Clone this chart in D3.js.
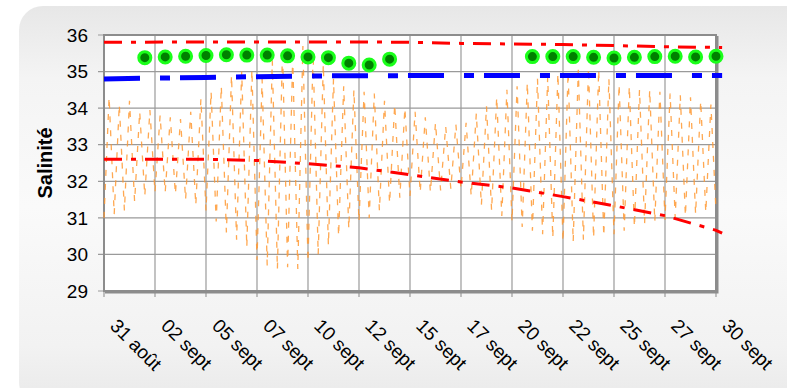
<!DOCTYPE html>
<html>
<head>
<meta charset="utf-8">
<script src="https://cdn.jsdelivr.net/npm/d3@7"></script>
<style>
  body { margin: 0; background: #fff; }
  svg { display: block; font-family: "Liberation Sans", Arial, sans-serif; }
</style>
</head>
<body>
<svg id="chart" width="787" height="388"></svg>
<script>
// jours depuis le 31 août 00:00
let tickDays = [0, 2.5, 5, 7.5, 10, 12.5, 15, 17.5, 20, 22.5, 25, 27.5, 30];
let tickLabels = ["31 août", "02 sept", "05 sept", "07 sept", "10 sept", "12 sept", "15 sept",
    "17 sept", "20 sept", "22 sept", "25 sept", "27 sept", "30 sept"];
let yTicks = [29, 30, 31, 32, 33, 34, 35, 36];

// salinité marée : basses mers (t = 0, 0.5, ... 30 j), pleines mers (t = 0.25, 0.75, ... 29.75 j)
let basses = [31.0, 31.1, 31.2, 31.45, 31.6, 31.7, 31.7, 31.65, 31.5, 31.35,
    31.2, 30.9, 30.6, 30.4, 30.2, 29.85, 29.7, 29.6, 29.65, 29.6,
    29.8, 30.0, 30.25, 30.5, 30.7, 30.9, 31.0, 31.2, 31.4, 31.55,
    31.6, 31.7, 31.7, 31.75, 31.8, 31.8, 31.6, 31.35, 31.2, 31.05,
    30.9, 30.75, 30.65, 30.55, 30.45, 30.35, 30.35, 30.4, 30.45, 30.5,
    30.55, 30.65, 30.75, 30.85, 30.9, 30.95, 31.0, 31.05, 31.1, 31.15, 31.2];
let hautes = [34.3, 34.1, 34.2, 33.9, 33.95, 33.8, 33.75, 33.7, 33.9, 34.25,
    34.45, 34.6, 34.9, 35.0, 35.05, 34.8, 35.3, 35.6, 35.4, 35.7,
    35.5, 35.2, 34.8, 34.6, 34.5, 34.45, 34.4, 34.2, 34.1, 34.0,
    33.9, 33.75, 33.6, 33.5, 33.55, 33.6, 33.85, 34.05, 34.3, 34.5,
    34.6, 34.7, 34.8, 34.85, 34.95, 35.0, 35.05, 35.1, 35.05, 34.8,
    34.65, 34.6, 34.5, 34.5, 34.45, 34.4, 34.35, 34.3, 34.2, 34.1];

// moyennes journalières (points verts)
let joursMoy = [2, 3, 4, 5, 6, 7, 8, 9, 10, 11, 12, 13, 14,
    21, 22, 23, 24, 25, 26, 27, 28, 29, 30];
let valMoy = [35.38, 35.40, 35.42, 35.44, 35.46, 35.45, 35.45, 35.43, 35.40, 35.38, 35.23, 35.18, 35.34,
    35.41, 35.41, 35.41, 35.39, 35.37, 35.39, 35.41, 35.42, 35.40, 35.42];

// tendances
let tendJours = [0, 5, 7.5, 10, 12.5, 15, 17.5, 20, 22.5, 25, 27.5, 30, 30.3];
let tendHaut = [35.80, 35.81, 35.81, 35.81, 35.81, 35.80, 35.77, 35.755, 35.74, 35.71, 35.68, 35.66, 35.655];
let tendBleu = [34.80, 34.84, 34.86, 34.88, 34.885, 34.89, 34.89, 34.89, 34.89, 34.89, 34.89, 34.89, 34.89];
let tendBas = [32.60, 32.60, 32.57, 32.48, 32.37, 32.18, 31.98, 31.82, 31.58, 31.33, 31.06, 30.66, 30.58];

let svg = d3.select("#chart");
let margin = { top: 35, left: 104, right: 716, bottom: 291 };

let defs = svg.append("defs");
let grad = defs.append("linearGradient").attr("id", "fond").attr("x1", 0).attr("y1", 0).attr("x2", 0).attr("y2", 1);
grad.append("stop").attr("offset", "0%").attr("stop-color", "#e7e7e7");
grad.append("stop").attr("offset", "18%").attr("stop-color", "#f4f4f4");
grad.append("stop").attr("offset", "50%").attr("stop-color", "#fafafa");
grad.append("stop").attr("offset", "85%").attr("stop-color", "#f2f2f2");
grad.append("stop").attr("offset", "100%").attr("stop-color", "#e9e9e9");

svg.append("rect")
    .attr("x", 19).attr("y", 6)
    .attr("width", 790).attr("height", 400)
    .attr("rx", 24)
    .attr("fill", "url(#fond)");

let x = d3.scaleLinear().domain([0, 30]).range([margin.left, margin.right]);
let y = d3.scaleLinear().domain([29, 36]).range([margin.bottom, margin.top]);

// zone de tracé
svg.append("rect")
    .attr("x", margin.left).attr("y", margin.top)
    .attr("width", margin.right - margin.left).attr("height", margin.bottom - margin.top)
    .attr("fill", "#fff");

// grille
svg.append("g").selectAll("line")
    .data(yTicks)
    .enter().append("line")
    .attr("x1", margin.left - 6).attr("x2", margin.right)
    .attr("y1", d => y(d)).attr("y2", d => y(d))
    .attr("stroke", "#9a9a9a").attr("stroke-width", 1.2);

svg.append("g").selectAll("line")
    .data(tickDays)
    .enter().append("line")
    .attr("x1", d => x(d)).attr("x2", d => x(d))
    .attr("y1", margin.top).attr("y2", margin.bottom + 6)
    .attr("stroke", "#9a9a9a").attr("stroke-width", 1.2);

// cadre
svg.append("rect")
    .attr("x", margin.left).attr("y", margin.top)
    .attr("width", margin.right - margin.left).attr("height", margin.bottom - margin.top)
    .attr("fill", "none").attr("stroke", "#8c8c8c").attr("stroke-width", 2);
svg.append("path")
    .attr("d", "M" + (margin.right + 1.5) + "," + (margin.top + 1) + "V" + (margin.bottom + 1.5) + "H" + (margin.left + 1))
    .attr("fill", "none").attr("stroke", "#8c8c8c").attr("stroke-width", 2);

// série marée
let maree = [];
basses.forEach(function (v, i) {
    maree.push({ t: i * 0.5, v: v });
    if (i < hautes.length) maree.push({ t: i * 0.5 + 0.25, v: hautes[i] });
});

let line = d3.line().x(d => x(d.t)).y(d => y(d.v));

svg.append("path")
    .datum(maree)
    .attr("d", line)
    .attr("fill", "none")
    .attr("stroke", "#ff9933")
    .attr("stroke-opacity", 0.85)
    .attr("stroke-width", 1.3)
    .attr("stroke-dasharray", "6,8");

let tendLine = d3.line().x(d => x(d[0])).y(d => y(d[1]));

svg.append("path")
    .datum(d3.zip(tendJours, tendBleu))
    .attr("d", tendLine)
    .attr("fill", "none")
    .attr("stroke", "#0000ff")
    .attr("stroke-width", 5)
    .attr("stroke-dasharray", "36,20,10,10");

[tendHaut, tendBas].forEach(function (serie) {
    svg.append("path")
        .datum(d3.zip(tendJours, serie))
        .attr("d", tendLine)
        .attr("fill", "none")
        .attr("stroke", "#ff0000")
        .attr("stroke-width", 3)
        .attr("stroke-dasharray", "18,9,5,9");
});

svg.append("g").selectAll("circle")
    .data(d3.zip(joursMoy, valMoy))
    .enter().append("circle")
    .attr("cx", d => x(d[0]))
    .attr("cy", d => y(d[1]))
    .attr("r", 6)
    .attr("fill", "#008000")
    .attr("stroke", "#1aff1a")
    .attr("stroke-width", 3);

// libellés axe Y
svg.append("g").selectAll("text")
    .data(yTicks)
    .enter().append("text")
    .attr("x", 88)
    .attr("y", d => y(d))
    .attr("dy", "0.35em")
    .attr("text-anchor", "end")
    .attr("font-size", 19)
    .attr("fill", "#000")
    .text(d => d);

svg.append("text")
    .attr("transform", "translate(52,163) rotate(-90)")
    .attr("text-anchor", "middle")
    .attr("font-size", 20)
    .attr("font-weight", "bold")
    .text("Salinité");

// libellés axe X
svg.append("g").selectAll("text")
    .data(tickDays)
    .enter().append("text")
    .attr("transform", (d, i) => "translate(" + (x(d) + 5) + ",327) rotate(45)")
    .attr("font-size", 19)
    .attr("fill", "#000")
    .text((d, i) => tickLabels[i]);
</script>
</body>
</html>
